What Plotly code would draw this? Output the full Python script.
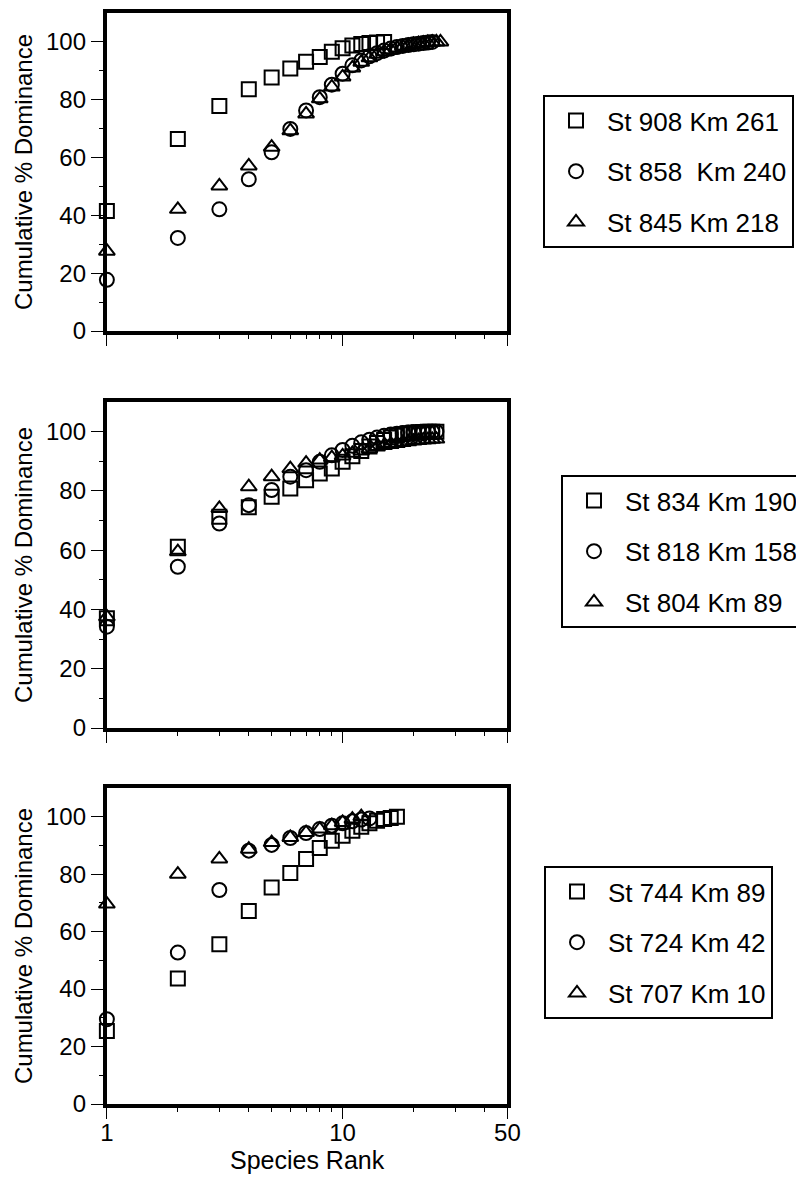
import plotly.graph_objects as go

# ---------------- data ----------------
# Top panel
rank_908 = list(range(1, 16))
dom_908 = [41.5, 66.4, 77.8, 83.6, 87.7, 90.8, 93.1, 94.8, 96.6, 97.8, 98.8, 99.3, 99.6, 99.8, 100.0]
rank_858 = list(range(1, 25))
dom_858 = [17.7, 32.2, 42.1, 52.5, 61.8, 69.9, 76.3, 80.9, 85.2, 89.0, 91.9, 93.6, 95.0, 96.1,
           97.0, 97.7, 98.2, 98.6, 98.9, 99.2, 99.4, 99.6, 99.8, 100.0]
rank_845 = list(range(1, 27))
dom_845 = [27.6, 42.1, 50.2, 57.1, 63.6, 69.3, 75.1, 80.3, 84.4, 87.9, 91.0, 93.0, 94.5, 95.7,
           96.6, 97.3, 97.9, 98.4, 98.8, 99.1, 99.4, 99.6, 99.8, 99.9, 100.0, 100.0]

# Middle panel
rank_834 = list(range(1, 26))
dom_834 = [37.0, 61.2, 71.3, 74.5, 78.0, 80.8, 83.6, 85.9, 87.6, 89.8, 91.7, 93.5, 95.0, 96.2,
           97.2, 98.0, 98.6, 99.1, 99.4, 99.6, 99.8, 99.9, 100.0, 100.0, 100.0]
rank_818 = list(range(1, 26))
dom_818 = [34.2, 54.4, 69.0, 75.2, 80.3, 84.8, 87.0, 89.8, 92.0, 93.8, 95.2, 96.4, 97.3, 98.0,
           98.6, 99.0, 99.3, 99.5, 99.7, 99.8, 99.9, 100.0, 100.0, 100.0, 100.0]
rank_804 = list(range(1, 26))
dom_804 = [37.5, 59.5, 74.1, 81.4, 84.8, 87.5, 89.4, 90.4, 91.2, 91.8, 92.7, 93.5, 94.2, 94.8,
           95.3, 95.7, 96.0, 96.3, 96.6, 96.8, 97.0, 97.2, 97.3, 97.4, 97.5]

# Bottom panel
rank_744 = list(range(1, 18))
dom_744 = [25.4, 43.7, 55.6, 67.2, 75.4, 80.4, 85.3, 89.1, 91.6, 93.4, 95.1, 96.5, 97.7, 98.6,
           99.2, 99.6, 100.0]
rank_724 = list(range(1, 14))
dom_724 = [29.5, 52.7, 74.5, 88.2, 90.2, 92.6, 94.3, 95.7, 96.9, 97.7, 98.4, 99.0, 99.4]
rank_707 = list(range(1, 13))
dom_707 = [69.6, 80.0, 85.3, 88.7, 91.0, 92.8, 94.5, 95.7, 96.9, 98.0, 99.2, 100.0]

x_tick_vals = [1, 10, 50]
x_tick_text = ["1", "10", "50"]
x_minor_vals = [2, 3, 4, 5, 6, 7, 8, 9, 20, 30, 40]
y_tick_vals = [0, 20, 40, 60, 80, 100]
y_minor_vals = [10, 30, 50, 70, 90]

FONT = "Liberation Sans, Arial, Helvetica, sans-serif"
# the page body has an 8px default margin; the figure is sized to fill the rest
OFF = 8
W, H = 804 - OFF, 1181 - OFF


def px_x(px):
    return (px - OFF) / W


def px_y(py):
    return 1 - (py - OFF) / H


panels = [
    ([("St 908 Km 261", rank_908, dom_908, "square-open"),
      ("St 858 \u00a0Km 240", rank_858, dom_858, "circle-open"),
      ("St 845 Km 218", rank_845, dom_845, "triangle-up-open")],
     (13, 331), "legend", (543, 95)),
    ([("St 834 Km 190", rank_834, dom_834, "square-open"),
      ("St 818 Km 158", rank_818, dom_818, "circle-open"),
      ("St 804 Km 89", rank_804, dom_804, "triangle-up-open")],
     (402, 728), "legend2", (562, 475)),
    ([("St 744 Km 89", rank_744, dom_744, "square-open"),
      ("St 724 Km 42", rank_724, dom_724, "circle-open"),
      ("St 707 Km 10", rank_707, dom_707, "triangle-up-open")],
     (788, 1104), "legend3", (544, 866)),
]

fig = go.Figure()
layout = dict(
    width=W, height=H,
    margin=dict(l=0, r=0, t=0, b=0),
    paper_bgcolor="white", plot_bgcolor="white",
    font=dict(family=FONT, color="black", size=24),
    showlegend=True,
)

x_left, x_right = 107, 508
for i, (series, (ytop, ybot), lg, (lx, ly)) in enumerate(panels):
    n = i + 1
    xa = "x" if n == 1 else f"x{n}"
    ya = "y" if n == 1 else f"y{n}"
    for j, (name, xs, ys, sym) in enumerate(series):
        fig.add_trace(go.Scatter(
            x=xs, y=ys, mode="markers", name=name,
            xaxis=xa, yaxis=ya, legend=lg, legendgroup=f"{lg}_{j}",
            marker=dict(symbol=sym, size=14, color="black",
                        line=dict(color="black", width=2)),
            cliponaxis=False,
        ))
    is_bottom = (n == 3)
    xkey = "xaxis" if n == 1 else f"xaxis{n}"
    ykey = "yaxis" if n == 1 else f"yaxis{n}"
    layout[xkey] = dict(
        type="log", range=[0, 1.69897],
        domain=[px_x(x_left), px_x(x_right)],
        anchor=ya,
        showline=True, mirror=True, linewidth=4, linecolor="black",
        showgrid=False, zeroline=False,
        tickmode="array", tickvals=x_tick_vals, ticktext=x_tick_text,
        ticks="outside", ticklen=11, tickwidth=1.2, tickcolor="black",
        showticklabels=is_bottom,
        ticklabelstandoff=-7,
        tickfont=dict(size=24, family=FONT),
        minor=dict(tickmode="array", tickvals=x_minor_vals, ticks="outside",
                   ticklen=4, tickwidth=1, tickcolor="black"),
        title=dict(text="Species Rank" if is_bottom else "",
                   font=dict(size=25, family=FONT), standoff=6),
        automargin=False,
    )
    layout[ykey] = dict(
        range=[0, 110],
        domain=[px_y(ybot), px_y(ytop)],
        anchor=xa,
        showline=True, mirror=True, linewidth=4, linecolor="black",
        showgrid=False, zeroline=False,
        tickmode="array", tickvals=y_tick_vals,
        ticks="outside", ticklen=12, tickwidth=1.2, tickcolor="black",
        tickfont=dict(size=24, family=FONT),
        minor=dict(tickmode="array", tickvals=y_minor_vals, ticks="outside",
                   ticklen=4, tickwidth=1, tickcolor="black"),
        title=dict(text="Cumulative % Dominance",
                   font=dict(size=24, family=FONT), standoff=8),
        automargin=False,
    )
    layout[lg] = dict(
        x=px_x(lx), y=px_y(ly), xanchor="left", yanchor="top",
        bordercolor="black", borderwidth=2, bgcolor="white",
        font=dict(size=26, family=FONT, color="black"),
        tracegroupgap=14, traceorder="grouped",
        itemwidth=52,
    )

fig.update_layout(**layout)
fig.write_html("out.html")
